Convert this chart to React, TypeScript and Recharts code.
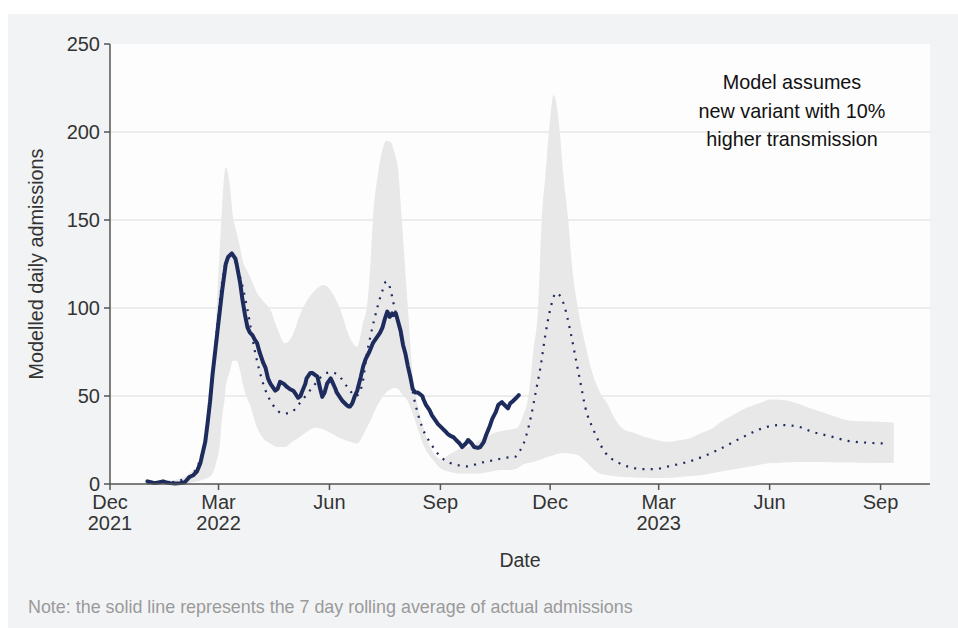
import React from "react";
import {
  ComposedChart,
  Area,
  Line,
  XAxis,
  YAxis,
  CartesianGrid,
  Label,
} from "recharts";

// x values are days since 1 Dec 2021
const X_TICKS = [0, 90, 182, 274, 365, 455, 547, 639];
const X_TICK_LABELS = [
  ["Dec", "2021"],
  ["Mar", "2022"],
  ["Jun"],
  ["Sep"],
  ["Dec"],
  ["Mar", "2023"],
  ["Jun"],
  ["Sep"],
];
const Y_TICKS = [0, 50, 100, 150, 200, 250];
const GRID_VALUES = [50, 100, 150, 200];

// 7 day rolling average of actual admissions [day, value]
const ACTUAL: [number, number][] = [
  [31, 1.5], [33, 1.2], [37, 0.5], [41, 1], [44, 1.5], [46, 1], [50, 0.5], [54, 0.3],
  [58, 0.5], [62, 1], [66, 4], [69, 5], [72, 7], [75, 12], [77, 18], [79, 24], [81, 35],
  [83, 47], [85, 62], [87, 74], [89, 86], [90, 92], [92, 104], [93, 110], [95, 120],
  [96, 125], [98, 129], [101, 131], [104, 128], [105, 125], [108, 114], [110, 104],
  [112, 96], [114, 89], [116, 86], [118, 84.7], [120, 82], [122, 80], [124, 75],
  [127, 69], [129, 66], [131, 60], [133, 57], [135, 55], [137, 53], [139, 54], [141, 58],
  [144, 57], [147, 55], [149, 54], [152, 53], [154, 51], [156, 49], [158, 50], [159, 52],
  [162, 57], [163, 60], [166, 63], [168, 63], [170, 62], [172, 61], [174, 55],
  [176, 49.5], [178, 52], [180, 57], [183, 60], [185, 57], [187, 54], [188, 52],
  [191, 49], [193, 47], [196, 45], [198, 44], [199, 44], [201, 46], [203, 50], [205, 53],
  [208, 61], [210, 67], [212, 71], [215, 75], [218, 80], [221, 83], [224, 86], [226, 89],
  [228, 94], [230, 98], [232, 95], [234, 97], [235, 96], [237, 97], [239, 92], [241, 87],
  [243, 79], [245, 74], [247, 67], [249, 61], [251, 54], [253, 52], [255, 52], [257, 51],
  [259, 50], [260, 48], [262, 45], [265, 42], [267, 39], [270, 36], [272, 34], [275, 32],
  [278, 30], [280, 28.5], [282, 27.5], [285, 26.5], [287, 25], [290, 23], [292, 21],
  [295, 23], [297, 25], [300, 23], [302, 21], [305, 20.5], [307, 21], [310, 24], [312, 28],
  [315, 33], [317, 37], [320, 41], [322, 45], [325, 46.5], [327, 45], [330, 43], [332, 46],
  [334, 47], [337, 49], [339, 50.5],
];

// modelled central estimate [day, value]
const MODEL: [number, number][] = [
  [31, 0.5], [50, 1], [62, 3], [70, 7], [76, 17], [80, 30], [85, 60], [89, 90], [93, 115],
  [97, 128], [101, 131], [105, 124], [110, 112], [114, 99], [120, 76], [127, 57], [135, 45],
  [144, 40], [151, 41], [155, 44], [168, 55], [177, 62], [183, 63.5], [189, 62], [197, 55],
  [204, 50], [209, 56], [213, 74], [216, 84], [222, 101], [226, 110], [229, 115], [232, 112],
  [235, 103], [241, 85], [247, 67], [253, 46], [259, 32], [266, 23], [274, 15.5], [282, 12],
  [290, 10.5], [296, 10], [307, 12], [318, 13.5], [329, 15], [336, 15.5], [340, 19],
  [343, 23], [349, 38], [353, 52], [357, 66.5], [361, 84.6], [365, 99], [370, 108.5],
  [374, 106], [377, 100.6], [382, 86], [386, 72], [390, 58], [394, 44], [401, 30.7],
  [411, 17.6], [422, 12], [429, 10], [442, 8.5], [452, 8.5], [463, 10], [484, 13.6],
  [504, 19.3], [523, 26], [535, 30], [548, 33], [556, 33.5], [568, 33], [583, 29.5],
  [598, 27], [612, 24.5], [627, 23.5], [646, 23],
];

// uncertainty band [day, low, high]
const BAND: [number, number, number][] = [
  [31, 0, 1], [50, 0, 2], [62, 0.3, 4], [69, 1, 8], [75, 2, 11], [79, 3, 20], [81, 3.5, 29],
  [85, 6, 57], [88, 12, 95], [91, 22, 133], [93, 38, 158], [95, 48, 177], [96, 55, 180],
  [99, 63, 172], [102, 70, 152], [105, 70, 143], [108, 64, 134], [110, 57, 127],
  [113, 50, 122], [116, 45, 118], [122, 32, 108.5], [127, 26, 104], [133, 23, 99],
  [139, 21, 88], [145, 21, 80], [151, 24, 84], [158, 27, 97], [164, 30, 105],
  [170, 32, 110], [177, 31, 113], [183, 29, 110], [191, 26, 99], [199, 24, 83],
  [205, 23, 78], [210, 28, 92], [213, 32, 100.6], [216, 36, 125], [218, 39, 150],
  [222, 45, 175], [226, 49.5, 190], [229, 52, 195], [233, 54, 194], [236, 54.5, 188],
  [239, 54, 178], [242, 51, 150], [247, 47, 100.6], [251, 40, 62], [255, 32, 45],
  [260, 22, 32], [265, 16, 22], [270, 12, 16], [274, 9, 14], [282, 7, 17], [290, 6, 20],
  [300, 6, 22], [307, 6, 25], [315, 7, 28], [324, 8, 30], [332, 8, 31], [338, 9, 32],
  [342, 11, 38], [347, 12, 50], [351, 12.5, 75], [355, 13.5, 100], [358, 14, 150],
  [361, 15, 175], [364, 15.5, 200], [368, 16.5, 221], [373, 17.3, 200], [376, 17.6, 175],
  [380, 17.5, 150], [383, 17.2, 125], [388, 16.5, 100], [394, 13, 80], [400, 9, 63],
  [408, 5.5, 50], [413, 5, 45], [417, 4.5, 39], [426, 4, 31], [435, 3.7, 29],
  [442, 3.5, 27], [448, 3.4, 26], [456, 3.4, 24.5], [465, 3.5, 24], [473, 4, 25],
  [481, 4.5, 26], [490, 5, 29], [498, 6, 31], [506, 7, 35], [519, 8.5, 40],
  [527, 9.5, 43], [539, 11, 46], [548, 12, 48], [552, 12, 48], [564, 12.3, 47],
  [581, 12.5, 43], [598, 12.4, 39], [614, 12.2, 36], [631, 12, 35.5], [650, 12, 35],
];

const NAVY = "#1e2c5d";
const FONT = "'Liberation Sans', Arial, Helvetica, sans-serif";

const actualData = ACTUAL.map(([day, value]) => ({ day, value }));
const modelData = MODEL.map(([day, value]) => ({ day, value }));
const bandData = BAND.map(([day, lo, hi]) => ({ day, range: [lo, hi] }));

function DateTick({ x, y, payload }: any) {
  const idx = X_TICKS.indexOf(payload.value);
  const lines = X_TICK_LABELS[idx] || [];
  return (
    <text x={x} y={y} textAnchor="middle" fill="#333" fontSize={20} fontFamily={FONT}>
      {lines.map((l, k) => (
        <tspan key={k} x={x} dy={k === 0 ? 17 : 21}>
          {l}
        </tspan>
      ))}
    </text>
  );
}

export default function App() {
  return (
    <div
      style={{
        position: "absolute",
        left: 8,
        top: 14,
        width: 950,
        height: 614,
        background: "#f2f3f5",
        fontFamily: FONT,
      }}
    >
      <ComposedChart width={950} height={614} margin={{ top: 30, right: 28, bottom: 61, left: 20 }}>
        <CartesianGrid
          fill="#fdfdfd"
          vertical={false}
          stroke="#dcdcdc"
          horizontalValues={GRID_VALUES}
        />
        <XAxis
          dataKey="day"
          type="number"
          domain={[0, 680]}
          ticks={X_TICKS}
          tick={<DateTick />}
          height={83}
          stroke="#555"
          strokeWidth={1.5}
          tickSize={6}
          allowDataOverflow
        >
          <Label value="Date" position="insideBottom" offset={0} fill="#333" fontSize={19.5} fontFamily={FONT} />
        </XAxis>
        <YAxis
          type="number"
          domain={[0, 250]}
          ticks={Y_TICKS}
          width={82}
          stroke="#555"
          strokeWidth={1.5}
          tickSize={6}
          tickMargin={4}
          tick={{ fill: "#333", fontSize: 20, fontFamily: FONT }}
        >
          <Label
            value="Modelled daily admissions"
            angle={-90}
            position="insideLeft"
            offset={8}
            fill="#333"
            fontSize={19.8}
            fontFamily={FONT}
            style={{ textAnchor: "middle" }}
          />
        </YAxis>
        <Area
          data={bandData}
          dataKey="range"
          type="monotone"
          stroke="none"
          fill="#e8e8e8"
          fillOpacity={1}
          isAnimationActive={false}
        />
        <Line
          data={modelData}
          dataKey="value"
          type="monotone"
          stroke={NAVY}
          strokeWidth={2.2}
          strokeDasharray="2 6.3"
          dot={false}
          activeDot={false}
          isAnimationActive={false}
        />
        <Line
          data={actualData}
          dataKey="value"
          type="linear"
          stroke={NAVY}
          strokeWidth={4}
          strokeLinejoin="round"
          strokeLinecap="round"
          dot={false}
          activeDot={false}
          isAnimationActive={false}
        />
      </ComposedChart>
      <div
        style={{
          position: "absolute",
          left: 634,
          top: 54,
          width: 300,
          textAlign: "center",
          fontSize: 19.8,
          lineHeight: "28.5px",
          color: "#111",
        }}
      >
        Model assumes
        <br />
        new variant with 10%
        <br />
        higher transmission
      </div>
      <div
        style={{
          position: "absolute",
          left: 20,
          top: 583,
          fontSize: 17.9,
          lineHeight: "20px",
          color: "#9a9a9a",
          whiteSpace: "nowrap",
        }}
      >
        Note: the solid line represents the 7 day rolling average of actual admissions
      </div>
    </div>
  );
}
